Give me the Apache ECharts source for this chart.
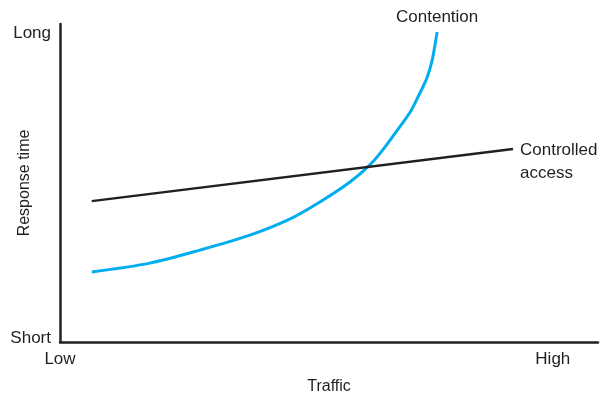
<!DOCTYPE html>
<html>
<head>
<meta charset="utf-8">
<script src="https://cdn.jsdelivr.net/npm/echarts@6/dist/echarts.min.js"></script>
<style>
  html, body { margin: 0; padding: 0; background: #fff; }
  #chart { width: 600px; height: 395px; }
</style>
</head>
<body>
<div id="chart"></div>
<script>
// traffic (0-100) vs response time (0-100)
const contentionX = [5.9, 16.7, 26.0, 35.3, 42.8, 48.3, 53.9, 57.6, 60.0, 62.6, 65.1, 66.9, 68.2, 69.1, 69.7, 70.1];
const contentionY = [22.0, 24.8, 28.9, 33.6, 38.7, 44.0, 50.3, 55.7, 60.4, 66.4, 72.3, 78.3, 83.0, 88.1, 93.4, 97.5];
const accessX = [5.9, 84.2];
const accessY = [44.3, 60.7];

const xTickValues = [0, 91.6];
const xTickLabels = ['Low', 'High'];
const yTickValues = [1.3, 97.2];
const yTickLabels = ['Short', 'Long'];

const seriesNames = ['Contention', 'Controlled\naccess'];

const font = 'Liberation Sans, Arial, sans-serif';
const ink = '#231f20';

const chart = echarts.init(document.getElementById('chart'));

const tickLabel = (values, labels) => (v) => {
  const i = values.findIndex((t) => Math.abs(t - v) < 1e-6);
  return i >= 0 ? labels[i] : '';
};

chart.setOption({
  animation: false,
  grid: { left: 60, right: 2, top: 24, bottom: 53, outerBoundsMode: 'none', containLabel: false },
  xAxis: {
    type: 'value',
    min: 0,
    max: 100,
    name: 'Traffic',
    nameLocation: 'middle',
    nameGap: 37,
    nameMoveOverlap: false,
    nameTextStyle: { fontFamily: font, fontSize: 16, color: ink },
    axisLine: { lineStyle: { color: ink, width: 2.5 } },
    axisTick: { show: false },
    splitLine: { show: false },
    axisLabel: {
      customValues: xTickValues,
      formatter: tickLabel(xTickValues, xTickLabels),
      fontFamily: font,
      fontSize: 17,
      color: ink,
      margin: 9
    }
  },
  yAxis: {
    type: 'value',
    min: 0,
    max: 100,
    name: 'Response time',
    nameLocation: 'middle',
    nameGap: 27,
    nameMoveOverlap: false,
    nameTextStyle: { fontFamily: font, fontSize: 16, color: ink },
    axisLine: { show: true, lineStyle: { color: ink, width: 2.5 } },
    axisTick: { show: false },
    splitLine: { show: false },
    axisLabel: {
      customValues: yTickValues,
      formatter: tickLabel(yTickValues, yTickLabels),
      fontFamily: font,
      fontSize: 17,
      color: ink,
      margin: 9
    }
  },
  series: [
    {
      name: seriesNames[0],
      type: 'line',
      smooth: 0.3,
      symbol: 'none',
      lineStyle: { color: '#00aeef', width: 3 },
      data: contentionX.map((x, i) => [x, contentionY[i]]),
      endLabel: {
        show: true,
        formatter: seriesNames[0],
        distance: 0,
        align: 'center',
        verticalAlign: 'bottom',
        offset: [0, -6],
        fontFamily: font,
        fontSize: 17,
        color: ink
      }
    },
    {
      name: seriesNames[1],
      type: 'line',
      symbol: 'none',
      lineStyle: { color: ink, width: 2.5 },
      data: accessX.map((x, i) => [x, accessY[i]]),
      endLabel: {
        show: true,
        formatter: seriesNames[1],
        distance: 7,
        align: 'left',
        verticalAlign: 'top',
        offset: [0, -10],
        lineHeight: 23,
        fontFamily: font,
        fontSize: 17,
        color: ink
      }
    }
  ]
});

window.addEventListener('resize', () => chart.resize());
</script>
</body>
</html>
